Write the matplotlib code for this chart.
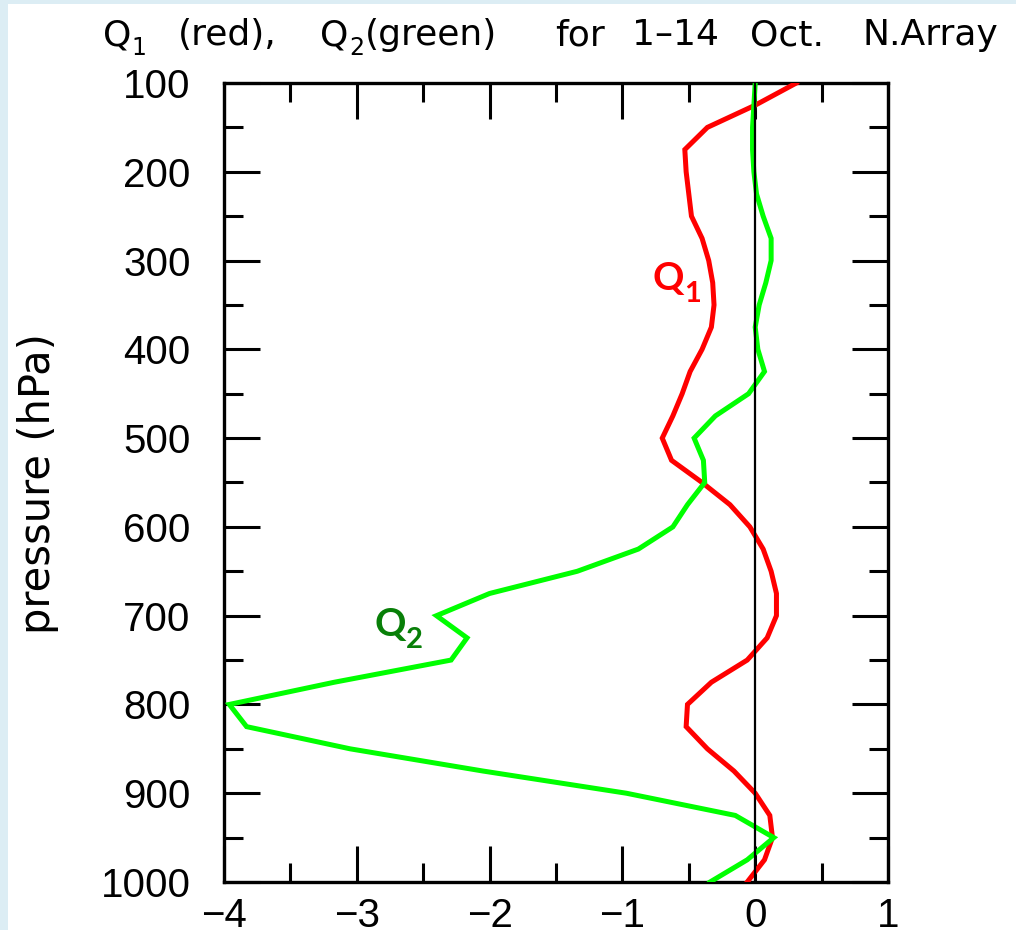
import numpy as np
import matplotlib.pyplot as plt
from matplotlib.patches import Rectangle

# pressure levels (hPa), every 25 hPa
levels = [100, 125, 150, 175, 200, 225, 250, 275, 300, 325, 350, 375, 400,
          425, 450, 475, 500, 525, 550, 575, 600, 625, 650, 675, 700, 725,
          750, 775, 800, 825, 850, 875, 900, 925, 950, 975, 1000]

# apparent heat source Q1 (red)
q1 = [0.31, 0.0, -0.36, -0.53, -0.52, -0.50, -0.48, -0.40, -0.35, -0.32,
      -0.31, -0.33, -0.40, -0.49, -0.55, -0.62, -0.70, -0.63, -0.40, -0.19,
      -0.04, 0.06, 0.12, 0.16, 0.16, 0.09, -0.06, -0.33, -0.51, -0.52,
      -0.36, -0.16, 0.0, 0.11, 0.13, 0.07, -0.06]

# apparent moisture sink Q2 (green)
q2 = [0.0, -0.01, -0.02, -0.02, -0.01, 0.01, 0.06, 0.12, 0.12, 0.08,
      0.03, 0.0, 0.02, 0.07, -0.05, -0.30, -0.46, -0.39, -0.38, -0.51,
      -0.62, -0.88, -1.34, -2.00, -2.40, -2.17, -2.29, -3.17, -3.96, -3.83,
      -3.05, -2.05, -0.97, -0.15, 0.14, -0.06, -0.34]

xticks = [-4, -3, -2, -1, 0, 1]
yticks = [100, 200, 300, 400, 500, 600, 700, 800, 900, 1000]

W, H = 1016, 930
fig = plt.figure(figsize=(W / 100, H / 100), dpi=100)
fig.patch.set_facecolor('#dcedf4')
fig.patches.append(Rectangle((8 / W, 0), 1 - 8 / W, 1 - 4 / H,
                             transform=fig.transFigure, facecolor='white',
                             edgecolor='none', zorder=-10))

ax = fig.add_axes([224 / W, 48 / H, 664 / W, 799 / H])
ax.plot(q1, levels, color='#ff0000', lw=3.6, solid_joinstyle='miter', zorder=3)
ax.plot(q2, levels, color='#00ff00', lw=3.6, solid_joinstyle='miter', zorder=4)
ax.axvline(0, color='black', lw=1.6, zorder=5)

ax.set_xlim(-4, 1)
ax.set_ylim(1000, 100)
ax.set_xticks(xticks)
ax.set_yticks(yticks)
ax.set_xticks(np.arange(-3.5, 1, 1), minor=True)
ax.set_yticks(np.arange(150, 1000, 100), minor=True)
ax.tick_params(which='both', direction='in', top=True, right=True, width=2.2)
ax.tick_params(which='major', length=26)
ax.tick_params(which='minor', length=13.5)
ax.tick_params(axis='x', which='major', pad=11)
ax.tick_params(axis='y', which='major', pad=24)
for lab in ax.get_xticklabels() + ax.get_yticklabels():
    lab.set_fontfamily('Liberation Sans')
    lab.set_fontsize(29)
for s in ax.spines.values():
    s.set_linewidth(2.4)

def px(x, y):
    return x / W, 1 - y / H

# title, word by word to follow the wide lettering of the original
title_words = [(103, 'Q'), (178, '(red),'), (320, 'Q'), (365, '(green)'),
               (555, 'for'), (632, '1\u201314'), (750, 'Oct.'), (862, 'N.Array')]
for x, w in title_words:
    fig.text(*px(x, 45), w, fontsize=26, family='DejaVu Sans',
             ha='left', va='baseline')
fig.text(*px(131, 55), '1', fontsize=17, family='DejaVu Sans', ha='left', va='baseline')
fig.text(*px(349, 55), '2', fontsize=17, family='DejaVu Sans', ha='left', va='baseline')

fig.text(*px(38, 484), 'pressure (hPa)', fontsize=30, family='DejaVu Sans',
         rotation=90, ha='center', va='center')

# curve labels
fig.text(*px(652, 290), 'Q', fontsize=28, family='Lato', weight='bold',
         color='#ff0000', ha='left', va='baseline')
fig.text(*px(684, 302), '1', fontsize=21, family='Lato', weight='bold',
         color='#ff0000', ha='left', va='baseline')
fig.text(*px(375, 636), 'Q', fontsize=28, family='Lato', weight='bold',
         color='#087f08', ha='left', va='baseline')
fig.text(*px(406, 648), '2', fontsize=21, family='Lato', weight='bold',
         color='#087f08', ha='left', va='baseline')

fig.savefig('out.png', dpi=100)
